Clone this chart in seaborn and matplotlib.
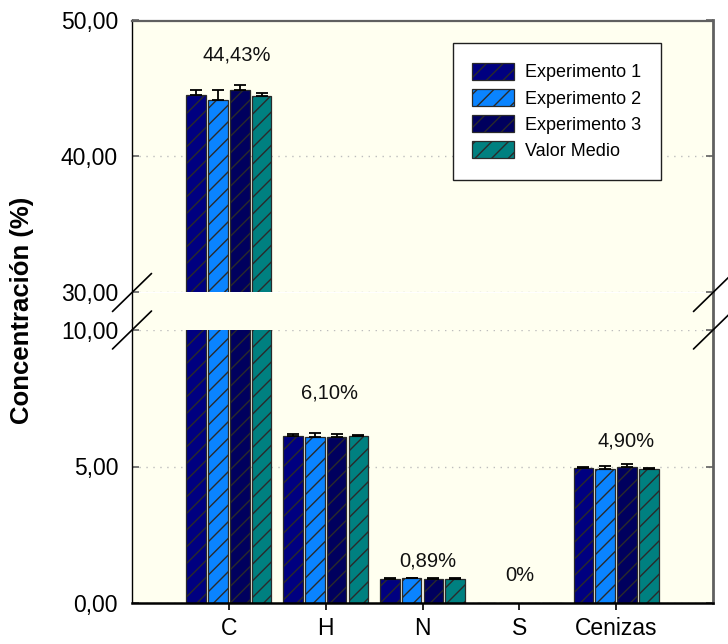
import numpy as np
import pandas as pd
import matplotlib
matplotlib.use("Agg")
import matplotlib.pyplot as plt
from matplotlib.lines import Line2D
from matplotlib.ticker import FuncFormatter
from matplotlib.container import BarContainer
import seaborn as sns

# --- data -------------------------------------------------------------
elementos = ["C", "H", "N", "S", "Cenizas"]
series = ["Experimento 1", "Experimento 2", "Experimento 3", "Valor Medio"]

exp1 = [44.49, 6.13, 0.88, 0.0, 4.96]
exp2 = [44.19, 6.07, 0.90, 0.0, 4.91]
exp3 = [44.90, 6.09, 0.88, 0.0, 4.99]
valor_medio = [44.43, 6.10, 0.89, 0.0, 4.90]

err1 = [0.37, 0.07, 0.02, 0.0, 0.04]
err2 = [0.73, 0.15, 0.03, 0.0, 0.10]
err3 = [0.34, 0.09, 0.02, 0.0, 0.09]
err_medio = [0.25, 0.04, 0.02, 0.0, 0.04]

etiquetas = ["44,43%", "6,10%", "0,89%", "0%", "4,90%"]

colores = ["#000080", "#0A84FF", "#00005E", "#008080"]

# --- style ------------------------------------------------------------
sns.set_style("ticks")
plt.rcParams["font.family"] = ["Liberation Sans", "DejaVu Sans"]
plt.rcParams["hatch.linewidth"] = 1.0
plt.rcParams["text.color"] = "black"
plt.rcParams["xtick.labelcolor"] = "black"
plt.rcParams["ytick.labelcolor"] = "black"

valores = [exp1, exp2, exp3, valor_medio]
errores = [err1, err2, err3, err_medio]
df = pd.DataFrame({
    "Elemento": np.tile(elementos, len(series)),
    "Serie": np.repeat(series, len(elementos)),
    "Concentracion": np.concatenate(valores),
})

W, H = 728, 644
fig = plt.figure(figsize=(W / 100, H / 100), dpi=100)
fig.patch.set_facecolor("white")

x0, x1 = 132, 713
def rect(top_px, bot_px):
    return [x0 / W, (H - bot_px) / H, (x1 - x0) / W, (bot_px - top_px) / H]

ax_top = fig.add_axes(rect(20.5, 292.5))
ax_mid = fig.add_axes(rect(292.5, 330))
ax_bot = fig.add_axes(rect(330, 603))

bg = "#FFFFF0"
spine_gray = "#606060"

fmt = FuncFormatter(lambda v, _: f"{v:.2f}".replace(".", ","))

def style_bar(bar):
    bar.set_hatch("//")
    if hasattr(bar, "set_hatchcolor"):
        bar.set_edgecolor("#7a7a7a")
        bar.set_hatchcolor("black")
        bar.set_linewidth(1.2)

bar_sets = {}
for ax in (ax_top, ax_bot):
    sns.barplot(data=df, x="Elemento", y="Concentracion", hue="Serie",
                order=elementos, hue_order=series, palette=colores,
                saturation=1, width=0.9, gap=0.1, errorbar=None,
                edgecolor="#2a2a2a", linewidth=0.9, legend=False, ax=ax)
    ax.set_facecolor(bg)
    ax.set_axisbelow(True)
    bars = [c for c in ax.containers if isinstance(c, BarContainer)]
    bar_sets[ax] = bars
    for cont, errs in zip(bars, errores):
        xs, ys, es = [], [], []
        for bar, e in zip(cont.patches, errs):
            style_bar(bar)
            if bar.get_height() > 0:
                xs.append(bar.get_x() + bar.get_width() / 2)
                ys.append(bar.get_height())
                es.append(e)
        es = np.array(es)
        ax.errorbar(xs, ys, yerr=[np.zeros_like(es), es], fmt="none",
                    ecolor="black", elinewidth=1.3, capsize=4.3,
                    capthick=1.3, zorder=3)
    ax.set_xlim(-1, 5)
    ax.set_xlabel("")
    ax.set_ylabel("")
    ax.yaxis.set_major_formatter(fmt)
    ax.grid(axis="y", color="#bdbdbd", linestyle=(0, (1, 4)), linewidth=1)
    ax.tick_params(axis="y", direction="in", length=5, width=1.2,
                   color=spine_gray, labelcolor="black", labelsize=16.5,
                   pad=10, right=True, labelright=False)
    ax.spines["left"].set_color("black")
    ax.spines["left"].set_linewidth(1.0)
    ax.spines["right"].set_color(spine_gray)
    ax.spines["right"].set_linewidth(2.0)

ax_top.set_ylim(30, 50)
ax_top.set_yticks([30, 40, 50])
ax_top.tick_params(axis="x", bottom=False, labelbottom=False)
ax_top.spines["bottom"].set_visible(False)
ax_top.spines["top"].set_color(spine_gray)
ax_top.spines["top"].set_linewidth(1.6)

ax_bot.set_ylim(0, 10)
ax_bot.set_yticks([0, 5, 10])
ax_bot.spines["top"].set_visible(False)
ax_bot.spines["bottom"].set_color("black")
ax_bot.spines["bottom"].set_linewidth(1.8)
ax_bot.tick_params(axis="x", direction="out", length=5, width=1.2,
                   color="black", labelcolor="black", labelsize=16.5, pad=5)

# strip between the two panels
ax_mid.set_facecolor(bg)
ax_mid.set_xticks([])
ax_mid.set_yticks([])
ax_mid.spines["top"].set_visible(False)
ax_mid.spines["bottom"].set_visible(False)
ax_mid.spines["left"].set_color("black")
ax_mid.spines["left"].set_linewidth(1.0)
ax_mid.spines["right"].set_color(spine_gray)
ax_mid.spines["right"].set_linewidth(2.0)

# value labels above each group
label_dx = [0.08, 0.04, 0.06, 0.0, 0.10]
label_y = [47.46, 7.69, 1.54, 0.99, 5.93]
for i, txt in enumerate(etiquetas):
    target = ax_top if i == 0 else ax_bot
    target.text(i + label_dx[i], label_y[i], txt, ha="center", va="center",
                fontsize=14.5, color="#111111", zorder=5)

# legend
handles = [cont.patches[0] for cont in bar_sets[ax_top]]
leg = ax_top.legend(handles, series, loc="upper right",
                    bbox_to_anchor=(0.910, 0.917), borderaxespad=0,
                    fontsize=13, frameon=True, fancybox=False,
                    handlelength=2.3, handleheight=1.05, labelspacing=0.42,
                    handletextpad=0.6, borderpad=1.1)
for t in leg.get_texts():
    t.set_color("black")
leg.get_frame().set_edgecolor("#202020")
leg.get_frame().set_linewidth(1.0)
leg.get_frame().set_facecolor("white")
leg.get_frame().set_alpha(1)

# axis break marks
for xb in (x0, x1):
    for yb in (292.5, 330):
        fig.add_artist(Line2D([(xb - 19.5) / W, (xb + 19.5) / W],
                              [(H - yb - 19) / H, (H - yb + 19) / H],
                              transform=fig.transFigure, color="black",
                              linewidth=1.2, zorder=10))

fig.text(22 / W, (H - 310) / H, "Concentración (%)", rotation=90,
         ha="center", va="center", fontsize=18.5, fontweight="bold",
         color="black")

fig.savefig("out.png", dpi=100)
